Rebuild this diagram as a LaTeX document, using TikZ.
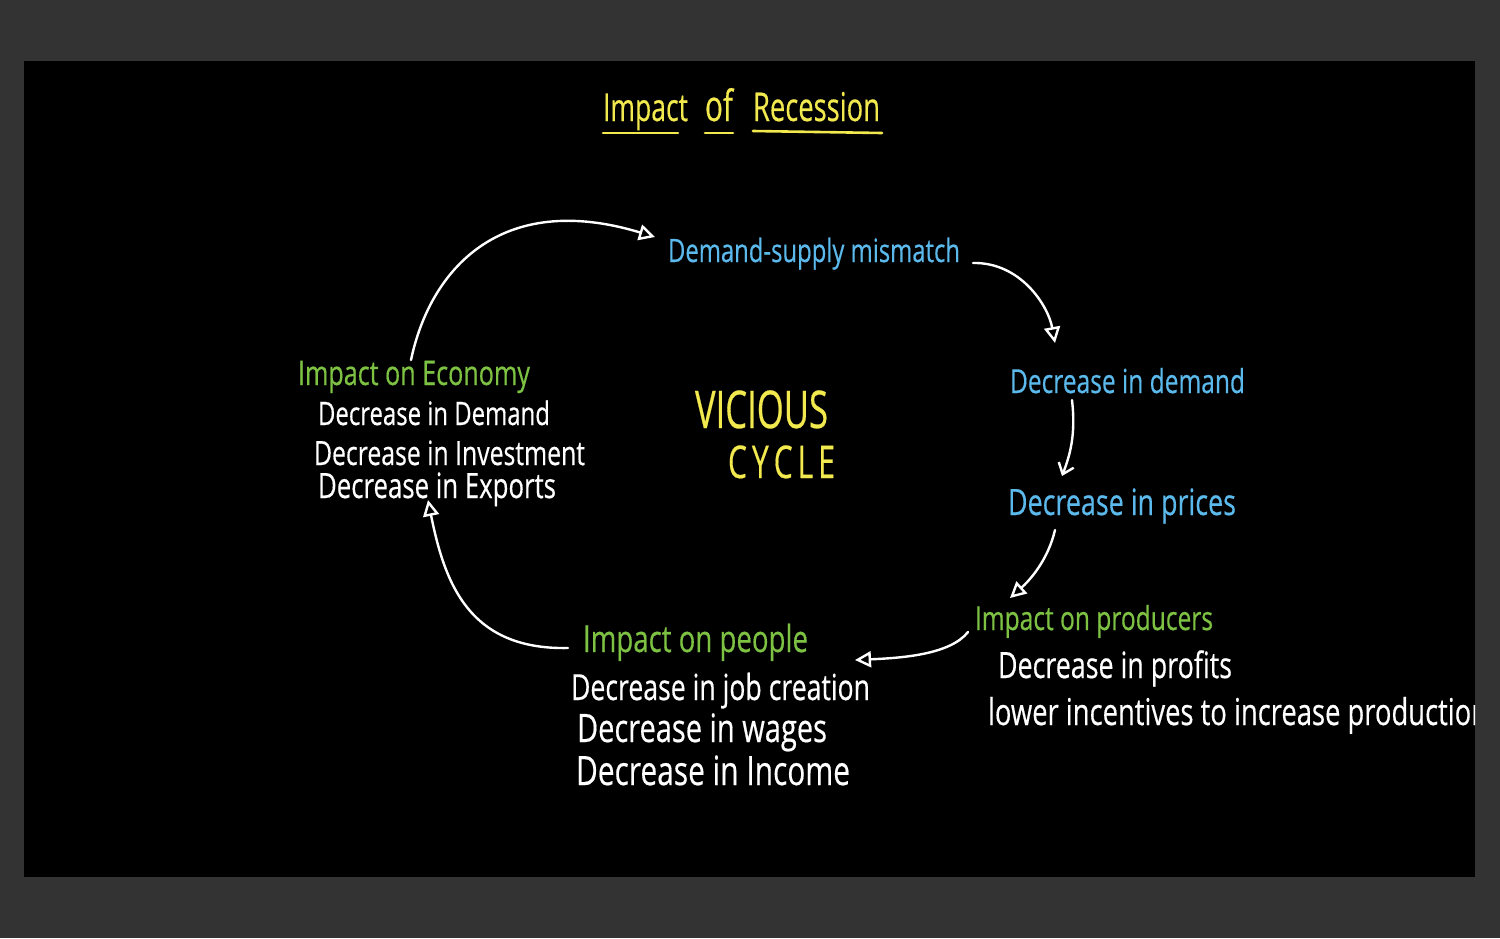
\documentclass[tikz,border=0pt]{standalone}
\usepackage{fontspec}
\setmainfont{Open Sans}[FakeBold=0.5]
\usetikzlibrary{arrows.meta}
\definecolor{bgray}{HTML}{333333}
\definecolor{hyellow}{HTML}{F2E94E}
\definecolor{hblue}{HTML}{5BB9EC}
\definecolor{hgreen}{HTML}{7DC243}
\newcommand{\hw}[3][1.35]{\scalebox{1}[#1]{\resizebox{#2pt}{!}{\fontsize{24}{28}\selectfont #3}}}
\tikzset{
  txt/.style={inner sep=0pt, outer sep=0pt, anchor=base west},
  yel/.style={txt, text=hyellow},
  blu/.style={txt, text=hblue},
  grn/.style={txt, text=hgreen},
  wht/.style={txt, text=white},
  arr/.style={draw=white, line width=2.4pt, line cap=round,
    -{Triangle[open,length=16pt,width=16pt,line width=2.4pt]}},
  barb/.style={draw=white, line width=2.4pt, line cap=round,
    -{Straight Barb[length=10pt,width=16pt,line width=2.4pt]}},
  uline/.style={draw=hyellow, line width=2.6pt, line cap=round}
}
\begin{document}
\begin{tikzpicture}[x=1pt,y=-1pt]
\fill[bgray] (0,0) rectangle (1500,938);
\fill[black] (24,61) rectangle (1475,877);
\useasboundingbox (0,0) rectangle (1500,938);

% title
\node[yel] (t1) at (603,121) {\hw[1.45]{85}{Impact}};
\node[yel] (t2) at (705,121) {\hw[1.45]{28}{of}};
\node[yel] (t3) at (753,121) {\hw[1.45]{127}{Recession}};
\draw[uline] ([yshift=-12pt]t1.base west) -- ([yshift=-12pt,xshift=-10pt]t1.base east);
\draw[uline] ([yshift=-12pt]t2.base west) -- ([yshift=-12pt]t2.base east);
\draw[uline] ([yshift=-10pt]t3.base west) -- ([yshift=-12pt,xshift=2pt]t3.base east);

% centre
\node[yel] (vic) at (695,428) {\hw[1.5]{133}{VICIOUS}};
\node[yel] (cyc) at (728,478) {\hw[1.5]{107}{C\,Y\,C\,L\,E}};

% chain
\node[blu] (dsm) at (668,262) {\hw{292}{Demand-supply mismatch}};
\node[blu] (dd) at (1010,393) {\hw{235}{Decrease in demand}};
\node[blu] (dp) at (1008,515) {\hw{228}{Decrease in prices}};

\node[grn] (prodh) at (975,630) {\hw{238}{Impact on producers}};
\node[wht] (prof) at (998,678) {\hw{234}{Decrease in profits}};
\begin{scope}
  \clip (24,61) rectangle (1475,877);
  \node[wht] (lower) at (988,725) {\hw{500}{lower incentives to increase production}};
\end{scope}

\node[grn] (peopleh) at (583,652) {\hw{225}{Impact on people}};
\node[wht] (job) at (571,700) {\hw{299}{Decrease in job creation}};
\node[wht] (wag) at (577,742) {\hw{250}{Decrease in wages}};
\node[wht] (inc) at (576,785) {\hw{274}{Decrease in Income}};

\node[grn] (econh) at (298,385) {\hw{232}{Impact on Economy}};
\node[wht] (ed) at (318,425) {\hw{232}{Decrease in Demand}};
\node[wht] (ei) at (314,465) {\hw{271}{Decrease in Investment}};
\node[wht] (ee) at (318,498) {\hw{238}{Decrease in Exports}};

% connectors
\draw[arr] ([xshift=113pt,yshift=25pt]econh.base west)
  .. controls (430,270) and (500,190) .. ([xshift=-13pt,yshift=25pt]dsm.base west);
\draw[arr] ([xshift=13pt,yshift=-1pt]dsm.base east)
  .. controls (1020,262) and (1048,305) .. ([xshift=45pt,yshift=50pt]dd.base west);
\draw[barb] ([xshift=62pt,yshift=-7pt]dd.base west)
  .. controls (1076,435) and (1070,455) .. ([xshift=54pt,yshift=39pt]dp.base west);
\draw[arr] ([xshift=47pt,yshift=-15pt]dp.base west)
  .. controls (1048,560) and (1030,580) .. ([xshift=35pt,yshift=32pt]prodh.base west);
\draw[arr] ([xshift=-7pt,yshift=-2pt]prodh.base west)
  .. controls (950,655) and (900,658) .. ([xshift=47pt,yshift=-8pt]peopleh.base east);
\draw[arr] ([xshift=-15pt,yshift=4pt]peopleh.base west)
  .. controls (470,650) and (445,585) .. ([xshift=110pt,yshift=-2pt]ee.base west);
\end{tikzpicture}
\end{document}
